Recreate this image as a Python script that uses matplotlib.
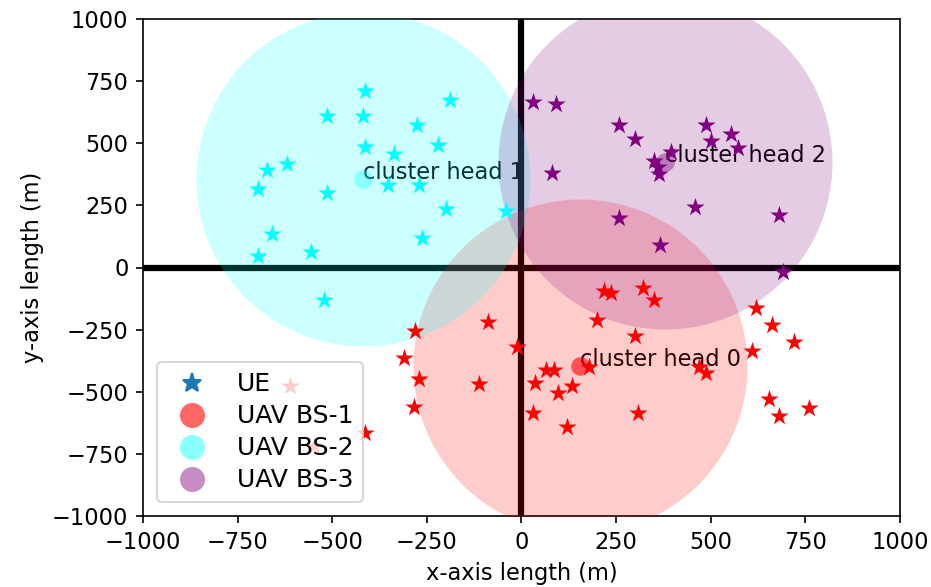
import matplotlib
matplotlib.use("Agg")
import matplotlib.pyplot as plt
from matplotlib.lines import Line2D

# ---- data ----
red_x = [-281, -88, -11, -311, -270, -112, -283, -612, -548, -414, 217, 237, 320, 349, 199, 301,
         619, 661, 721, 608, 179, 66, 87, 35, 133, 97, 31, 121, 307, 469, 488, 654, 679, 759]
red_y = [-257, -220, -319, -366, -449, -469, -563, -476, -718, -668, -93, -102, -82, -130, -211, -274,
         -164, -230, -301, -337, -402, -413, -413, -466, -476, -507, -587, -641, -587, -399, -426, -530, -597, -567]

cyan_x = [-414, -190, -515, -420, -276, -414, -221, -336, -619, -672, -697, -515, -354, -270, -199, -40,
          -659, -263, -697, -557, -522]
cyan_y = [710, 673, 610, 610, 575, 484, 492, 458, 418, 391, 317, 300, 331, 331, 236, 226,
          136, 118, 48, 64, -130]

purple_x = [31, 91, 258, 301, 488, 553, 500, 573, 396, 349, 361, 363, 80, 458, 258, 679, 367, 691]
purple_y = [664, 656, 573, 516, 575, 539, 508, 481, 465, 427, 405, 378, 382, 243, 199, 210, 92, -19]

head_x = [155, -420, 380]
head_y = [-395, 358, 425]
head_labels = ["cluster head 0", "cluster head 1", "cluster head 2"]
cluster_colors = ["red", "cyan", "purple"]
legend_labels = ["UE", "UAV BS-1", "UAV BS-2", "UAV BS-3"]

# ---- figure ----
DPI = 150
FS = 10.8
plt.rcParams["font.size"] = FS
fig = plt.figure(figsize=(932 / DPI, 587 / DPI), dpi=DPI)
ax = fig.add_axes([143 / 932, 71 / 587, 757 / 932, 497 / 587])

ax.axhline(0, color="black", lw=3, zorder=1)
ax.axvline(0, color="black", lw=3, zorder=1)

ue_sets = [(red_x, red_y), (cyan_x, cyan_y), (purple_x, purple_y)]
head_alpha = [0.6, 0.3, 0.4]
for i, c in enumerate(cluster_colors):
    ax.text(head_x[i], head_y[i], head_labels[i], fontsize=FS, color="black", zorder=2)
    ax.scatter([head_x[i]], [head_y[i]], s=25700, color=c, alpha=0.2, linewidths=0, zorder=3)
    ax.scatter([head_x[i]], [head_y[i]], s=80, color=c, alpha=head_alpha[i], linewidths=0, zorder=4)

for (xs, ys), c in zip(ue_sets, cluster_colors):
    ax.scatter(xs, ys, marker="*", s=85, color=c, linewidths=0, zorder=5)

ax.set_xlim(-1000, 1000)
ax.set_ylim(-1000, 1000)
ax.tick_params(labelsize=FS)
ax.set_xlabel("x-axis length (m)", fontsize=FS)
ax.set_ylabel("y-axis length (m)", fontsize=FS)

handles = [
    Line2D([], [], ls="none", marker="*", color="tab:blue", markersize=9.5),
    Line2D([], [], ls="none", marker="o", color="red", alpha=0.6, markersize=12, markeredgewidth=0),
    Line2D([], [], ls="none", marker="o", color="cyan", alpha=0.45, markersize=12, markeredgewidth=0),
    Line2D([], [], ls="none", marker="o", color="purple", alpha=0.45, markersize=12, markeredgewidth=0),
]
leg = ax.legend(handles, legend_labels, loc="lower left", fontsize=12,
                labelspacing=0.32, borderaxespad=0.55)
leg.set_zorder(10)

fig.savefig("out.png", dpi=DPI)
